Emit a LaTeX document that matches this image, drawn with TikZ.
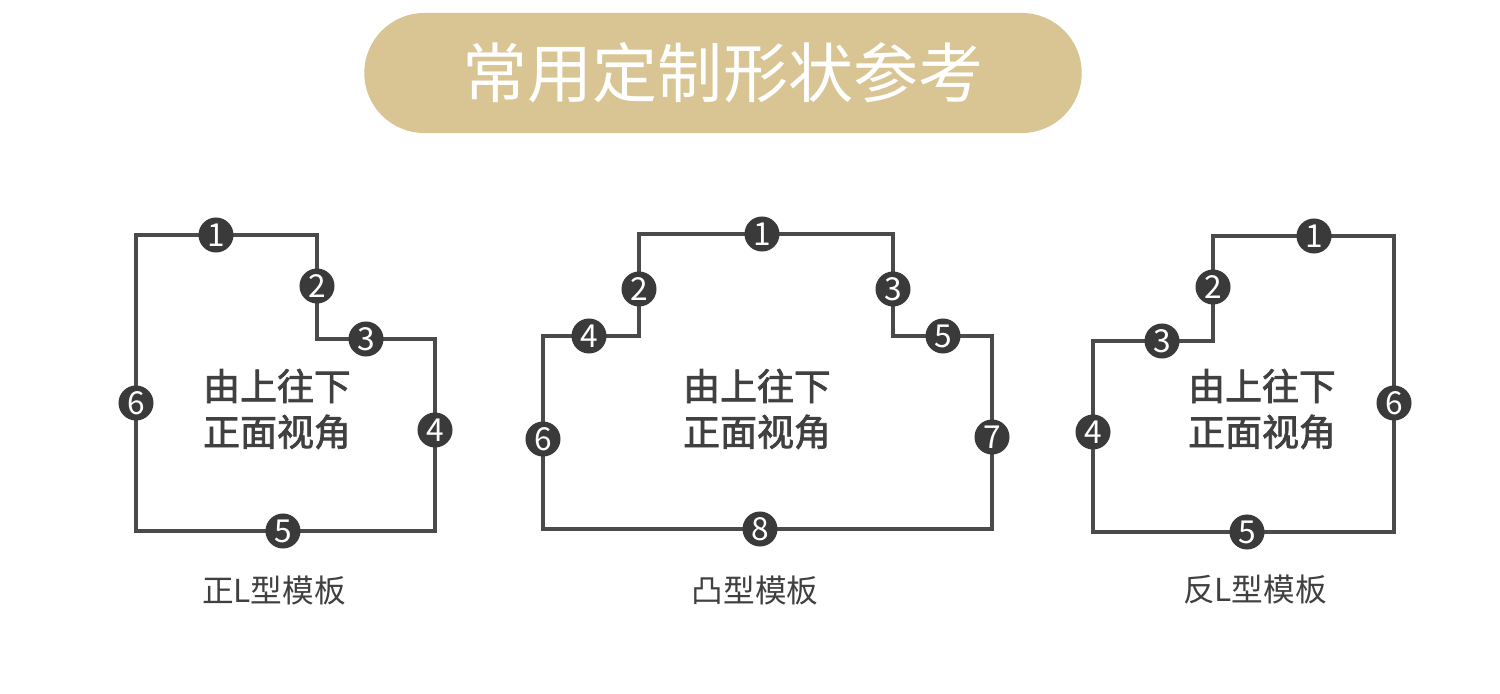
\documentclass[tikz,border=0pt]{standalone}
\usepackage{fontspec}
\newfontfamily\cjk{Noto Sans CJK SC}
\newfontfamily\cjkbold[FakeBold=2]{Noto Sans CJK SC}
\definecolor{goldtan}{HTML}{D9C594}
\definecolor{edgegray}{HTML}{4A4A4A}
\definecolor{dotgray}{HTML}{3A3A3A}
\definecolor{textgray}{HTML}{404040}
\tikzset{
	outline/.style={draw=edgegray, line width=1pt},
	numdot/.style={circle, fill=dotgray, inner sep=0pt, minimum size=0.35cm, text=white, 
	font=\cjk\fontsize{9}{9}\selectfont},
	viewtext/.style={text=textgray, align=center, font=\cjkbold\fontsize{10.5}{13}\selectfont},
	caption/.style={text=textgray, font=\cjk\fontsize{9}{9}\selectfont}
}
\begin{document}
\begin{tikzpicture}[x=0.01cm, y=-0.01cm]
			
			\useasboundingbox (0,0) rectangle (1500,694);
			
			%Title
			\node (Title) at (723,73) [rectangle, fill=goldtan, minimum height=1.2cm, minimum width=7.17cm, 
			rounded corners=0.6cm, text=white, font=\cjk\fontsize{18.5}{18.5}\selectfont]{常用定制形状参考};
			
			%Corners
			\coordinate (LA) at (136,235);
			\coordinate (LB) at (317,235);
			\coordinate (LC) at (317,339);
			\coordinate (LD) at (435,339);
			\coordinate (LE) at (435,531);
			\coordinate (LF) at (136,531);
			
			\coordinate (TA) at (543,336);
			\coordinate (TB) at (639,336);
			\coordinate (TC) at (639,234);
			\coordinate (TD) at (893,234);
			\coordinate (TE) at (893,336);
			\coordinate (TF) at (992,336);
			\coordinate (TG) at (992,529);
			\coordinate (TH) at (543,529);
			
			\coordinate (RA) at (1213,236);
			\coordinate (RB) at (1394,236);
			\coordinate (RC) at (1394,532);
			\coordinate (RD) at (1093,532);
			\coordinate (RE) at (1093,341);
			\coordinate (RF) at (1213,341);
			
			%Outlines
			\draw[outline] (LA) -- (LB) -- (LC) -- (LD) -- (LE) -- (LF) -- cycle;
			\draw[outline] (TA) -- (TB) -- (TC) -- (TD) -- (TE) -- (TF) -- (TG) -- (TH) -- cycle;
			\draw[outline] (RA) -- (RB) -- (RC) -- (RD) -- (RE) -- (RF) -- cycle;
			
			%Numbers
			\node (LOne) at (216,235) [numdot]{1};
			\node (LTwo) at (317,286) [numdot]{2};
			\node (LThree) at (366,339) [numdot]{3};
			\node (LFour) at (435,430) [numdot]{4};
			\node (LFive) at (283,531) [numdot]{5};
			\node (LSix) at (136,403) [numdot]{6};
			
			\node (TOne) at (762,234) [numdot]{1};
			\node (TTwo) at (639,289) [numdot]{2};
			\node (TThree) at (893,289) [numdot]{3};
			\node (TFour) at (589,336) [numdot]{4};
			\node (TFive) at (943,336) [numdot]{5};
			\node (TSix) at (543,439) [numdot]{6};
			\node (TSeven) at (992,437) [numdot]{7};
			\node (TEight) at (760,529) [numdot]{8};
			
			\node (ROne) at (1314,236) [numdot]{1};
			\node (RTwo) at (1213,287) [numdot]{2};
			\node (RThree) at (1162,341) [numdot]{3};
			\node (RFour) at (1093,432) [numdot]{4};
			\node (RFive) at (1247,532) [numdot]{5};
			\node (RSix) at (1394,403) [numdot]{6};
			
			%Views
			\node (LView) at (277,409) [viewtext]{由上往下\\正面视角};
			\node (TView) at (757,409) [viewtext]{由上往下\\正面视角};
			\node (RView) at (1262,409) [viewtext]{由上往下\\正面视角};
			
			%Captions
			\node (LCaption) at (274,590) [caption]{正L型模板};
			\node (TCaption) at (755,590) [caption]{凸型模板};
			\node (RCaption) at (1255,590) [caption]{反L型模板};
			
\end{tikzpicture}
\end{document}
